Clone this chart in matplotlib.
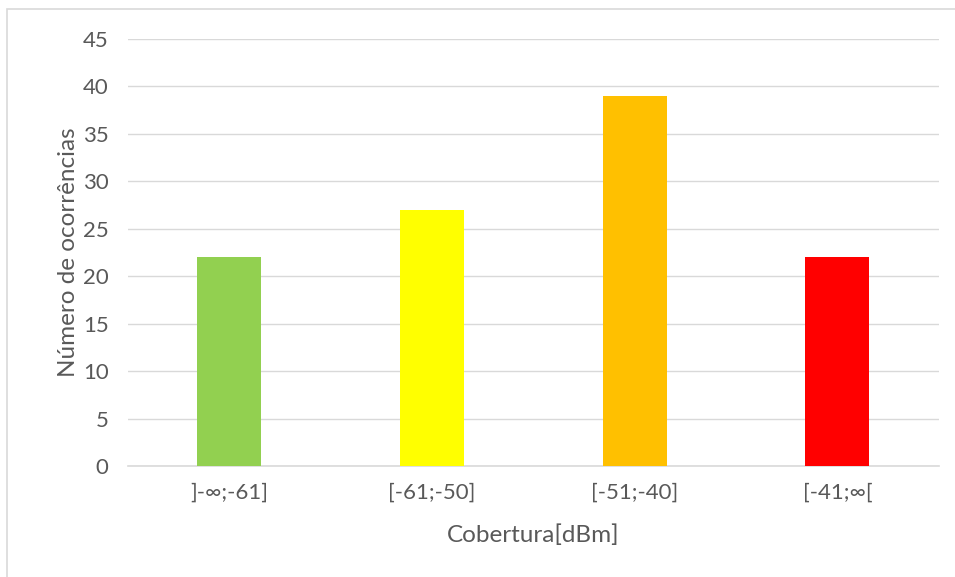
import matplotlib
matplotlib.use('Agg')
import matplotlib.pyplot as plt
from matplotlib.patches import Rectangle

plt.rcParams['font.family'] = ['Lato', 'DejaVu Sans']

categories = [']-∞;-61]', '[-61;-50]', '[-51;-40]', '[-41;∞[']
counts = [22, 27, 39, 22]
colors = ['#92D050', '#FFFF00', '#FFC000', '#FF0000']

fig = plt.figure(figsize=(9.55, 5.77), dpi=100)
ax = fig.add_axes([0.134, 0.1924, 0.849, 0.740])

# chart border (only left and top visible in the crop)
fig.patches.append(Rectangle((7/955, -0.5), 2.0, 1.5 - 9/577, transform=fig.transFigure,
                             fill=False, edgecolor='#D9D9D9', linewidth=1.2))

x = range(len(categories))
ax.bar(x, counts, width=0.316, color=colors, zorder=3)

ax.set_xlim(-0.5, 3.5)
ax.set_ylim(0, 45)
ax.set_yticks(range(0, 46, 5))
ax.set_xticks(list(x))
ax.set_xticklabels(categories)
ax.grid(axis='y', color='#D9D9D9', linewidth=1, zorder=0)

for s in ['top', 'right', 'left']:
    ax.spines[s].set_visible(False)
ax.spines['bottom'].set_color('#D9D9D9')
ax.spines['bottom'].set_linewidth(1.2)

ax.tick_params(axis='both', length=0, labelsize=16, colors='#595959')
ax.tick_params(axis='x', pad=12)
ax.tick_params(axis='y', pad=14)

ax.set_xlabel('Cobertura[dBm]', fontsize=17.5, color='#595959', labelpad=16)
ax.set_ylabel('Número de ocorrências', fontsize=17.5, color='#595959', labelpad=3)

fig.savefig('out.png', dpi=100)
